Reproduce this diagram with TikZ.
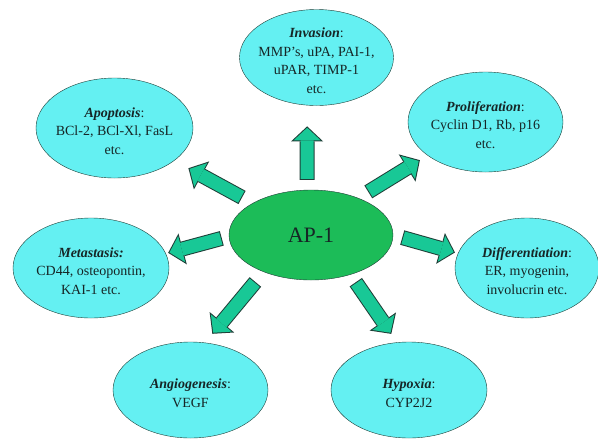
\documentclass[tikz,border=0pt]{standalone}
\usepackage{fontspec}
\setmainfont{Liberation Serif}
\usetikzlibrary{shapes.geometric, arrows.meta}
\definecolor{sky}{RGB}{100, 240, 242}
\definecolor{leaf}{RGB}{28, 188, 88}
\definecolor{jade}{RGB}{24, 200, 150}
\definecolor{rim}{RGB}{30, 62, 55}
\definecolor{ink}{RGB}{22, 38, 38}

\tikzset{
  bubble/.style={ellipse, draw=rim, fill=sky, inner sep=0pt, minimum width=156pt, minimum height=98pt},
  words/.style={align=center, text=ink, yshift=-3pt, font=\fontsize{14}{18.5}\selectfont},
  fat/.style 2 args={draw=rim, line width=15pt, shorten <=#1, shorten >=#2,
    -{Triangle[width=32pt, length=15pt, line width=0pt]},
    postaction={draw=jade, line width=13pt, shorten <={#1+1pt}, shorten >={#2+1.4pt},
      -{Triangle[width=26.9pt, length=12.6pt, line width=0pt]}}}
}

\begin{document}
\begin{tikzpicture}[x=1pt, y=-1pt]
  \useasboundingbox (0, 0) rectangle (598, 440);

  % Centre
  \node [ellipse, draw=rim, fill=leaf, minimum width=164pt, minimum height=90pt, text=ink,
    font=\fontsize{22}{26}\selectfont] (ap1) at (311, 235) {AP-1};

  % Top row
  \node [bubble, minimum width=154pt, minimum height=96pt,
    label={[words]center:{\textbf{\textit{Invasion}}:\\MMP's, uPA, PAI-1,\\uPAR, TIMP-1\\etc.}}]
    (inv) at (316.5, 57.5) {};
  \node [bubble, minimum width=157pt, minimum height=100pt,
    label={[words]center:{\textbf{\textit{Apoptosis}}:\\BCl-2, BCl-Xl, FasL\\etc.}}]
    (apo) at (114.5, 128) {};
  \node [bubble, minimum width=155pt, minimum height=100pt,
    label={[words]center:{\textbf{\textit{Proliferation}}:\\Cyclin D1, Rb, p16\\etc.}}]
    (pro) at (485.5, 122) {};

  % Middle row
  \node [bubble, minimum height=100pt,
    label={[words]center:{\textbf{\textit{Metastasis:}}\\CD44, osteopontin,\\KAI-1 etc.}}]
    (met) at (91, 268) {};
  \node [bubble, minimum width=144pt, minimum height=100pt,
    label={[words]center:{\textbf{\textit{Differentiation}}:\\ER, myogenin,\\involucrin etc.}}]
    (dif) at (527, 268) {};

  % Bottom row
  \node [bubble, minimum width=155pt, minimum height=96pt,
    label={[words]center:{\textbf{\textit{Angiogenesis}}:\\VEGF}}]
    (ang) at (190.5, 390) {};
  \node [bubble, minimum height=96pt,
    label={[words]center:{\textbf{\textit{Hypoxia}}:\\CYP2J2}}]
    (hyp) at (409, 390) {};

  % Arrows
  \draw [fat={10pt}{21pt}] (ap1.95) -- (inv.259);
  \draw [fat={12pt}{16pt}] (ap1) -- (apo);
  \draw [fat={11.7pt}{9pt}] (ap1.38) -- (pro.210);
  \draw [fat={7.3pt}{2.4pt}] (ap1.181) -- (met.11);
  \draw [fat={9.4pt}{3.1pt}] (ap1.0) -- (dif.168);
  \draw [fat={13pt}{11.5pt}] (ap1.218) -- (ang.73);
  \draw [fat={9.2pt}{10.3pt}] (ap1.315) -- (hyp.104);
\end{tikzpicture}
\end{document}
